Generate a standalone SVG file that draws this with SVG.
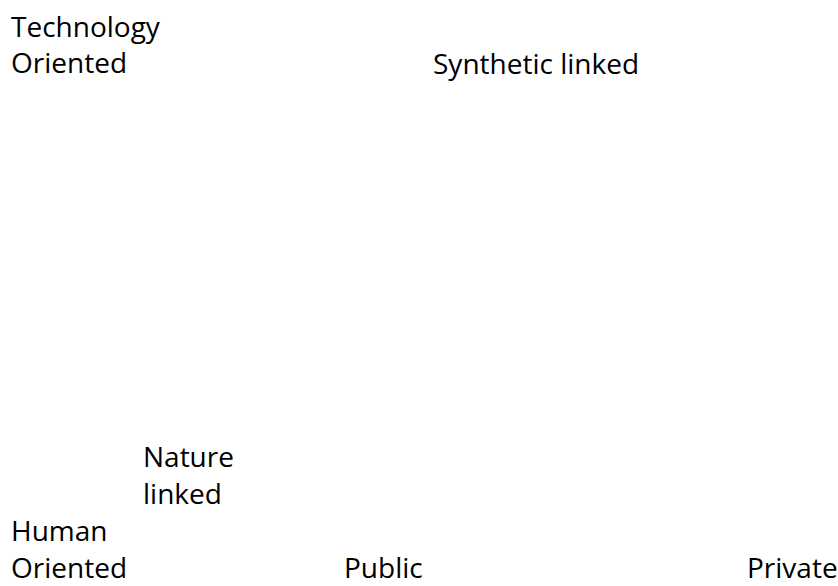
<svg xmlns="http://www.w3.org/2000/svg" width="838" height="586" viewBox="0 0 838 586">
<style>
text{font-family:"Open Sans","Liberation Sans",sans-serif;font-size:28px;fill:#000}
</style>
<rect width="838" height="586" fill="#fff"/>
<g id="technology-oriented"><text x="11" y="37">Technology</text><text x="11" y="73">Oriented</text></g>
<g id="synthetic-linked"><text x="433" y="74">Synthetic linked</text></g>
<g id="nature-linked"><text x="143" y="467">Nature</text><text x="143" y="504">linked</text></g>
<g id="human-oriented"><text x="11" y="541">Human</text><text x="11" y="578">Oriented</text></g>
<g id="public"><text x="344" y="578">Public</text></g>
<g id="private"><text x="747" y="578">Private</text></g>
<g id="connectors"/>
</svg>
